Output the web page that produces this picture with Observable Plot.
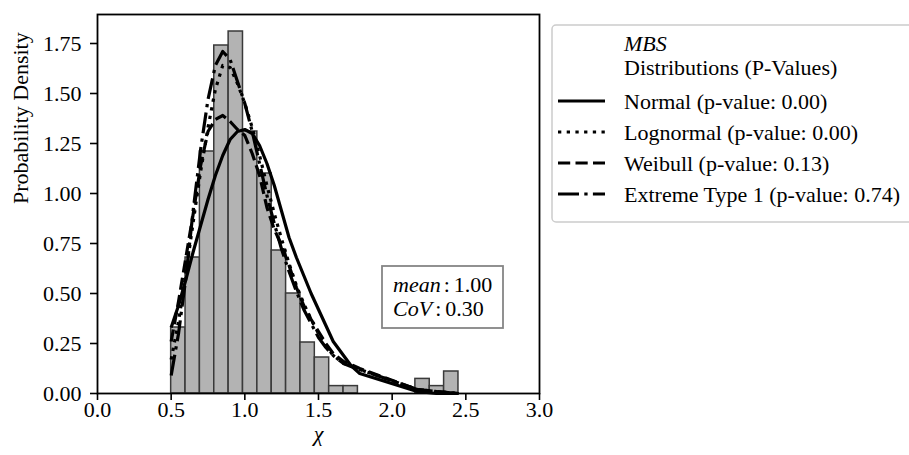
<!DOCTYPE html>
<html><head><meta charset="utf-8">
<script src="https://cdn.jsdelivr.net/npm/d3@7"></script>
<script src="https://cdn.jsdelivr.net/npm/@observablehq/plot@0.6"></script>
<style>
body{margin:0;background:#fff;overflow:hidden;}
#wrap{position:relative;width:909px;height:455px;font-family:"Liberation Serif","Times New Roman",serif;}
#wrap svg{display:block;}
#overlay{position:absolute;left:0;top:0;pointer-events:none;}
</style></head><body><div id="wrap"></div>
<script>
// Histogram (probability density per bin)
const binEdges = [0.5, 0.5975, 0.695, 0.7925, 0.89, 0.9875, 1.085, 1.1825, 1.28, 1.3775, 1.475, 1.5725, 1.67, 1.7675, 1.865, 1.9625, 2.06, 2.1575, 2.255, 2.3525, 2.45];
const density = [0.33, 0.68, 1.21, 1.74, 1.81, 1.31, 1.10, 0.715, 0.50, 0.255, 0.18, 0.037, 0.037, 0, 0, 0, 0, 0.073, 0.037, 0.11];

// Fitted curves, read at these x positions
const xGrid = [0.50, 0.55, 0.60, 0.65, 0.70, 0.75, 0.80, 0.85, 0.90, 0.95, 1.00, 1.05, 1.10, 1.15, 1.20, 1.25, 1.30, 1.35, 1.40, 1.45, 1.50, 1.55, 1.60, 1.67, 1.72, 1.78, 2.17, 2.30, 2.45];
const normalPdf    = [0.33, 0.44, 0.57, 0.71, 0.84, 0.97, 1.09, 1.19, 1.27, 1.31, 1.32, 1.30, 1.24, 1.15, 1.04, 0.91, 0.78, 0.68, 0.59, 0.50, 0.42, 0.34, 0.26, 0.19, 0.14, 0.10, 0.01, 0.00, 0.00];
const lognormalPdf = [0.17, 0.36, 0.60, 0.86, 1.11, 1.33, 1.52, 1.64, 1.63, 1.55, 1.45, 1.33, 1.19, 1.04, 0.90, 0.77, 0.65, 0.54, 0.45, 0.37, 0.30, 0.24, 0.19, 0.15, 0.14, 0.12, 0.02, 0.01, 0.00];
const weibullPdf   = [0.26, 0.46, 0.68, 0.90, 1.14, 1.31, 1.37, 1.39, 1.36, 1.32, 1.29, 1.20, 1.09, 0.93, 0.82, 0.74, 0.64, 0.53, 0.44, 0.37, 0.31, 0.25, 0.20, 0.16, 0.145, 0.125, 0.02, 0.01, 0.00];
const gumbelPdf    = [0.09, 0.30, 0.58, 0.92, 1.22, 1.47, 1.64, 1.71, 1.67, 1.56, 1.45, 1.31, 1.15, 0.99, 0.85, 0.72, 0.61, 0.51, 0.42, 0.35, 0.28, 0.23, 0.19, 0.15, 0.135, 0.12, 0.02, 0.01, 0.00];

const seriesNames = ["Normal (p-value: 0.00)", "Lognormal (p-value: 0.00)", "Weibull (p-value: 0.13)", "Extreme Type 1 (p-value: 0.74)"];
const legendTitle = ["MBS", "Distributions (P-Values)"];
const xTicks = [0, 0.5, 1.0, 1.5, 2.0, 2.5, 3.0];
const yTicks = [0, 0.25, 0.5, 0.75, 1.0, 1.25, 1.5, 1.75];
const xLabel = "χ";
const yLabel = "Probability Density";
const statNames = ["mean", "CoV"];
const statValues = ["1.00", "0.30"];

const curves = [normalPdf, lognormalPdf, weibullPdf, gumbelPdf];
const dashes = [null, "3.3,5.4", "12.2,5.3", "21,5.3,3.3,5.3"];
const LW = 3.2;

const chart = Plot.plot({
  width: 909, height: 455,
  marginLeft: 97, marginRight: 370, marginTop: 14, marginBottom: 62,
  style: {fontFamily: "'Liberation Serif', 'Times New Roman', serif", fontSize: "22px", color: "black", background: "white"},
  x: {domain: [0, 3]},
  y: {domain: [0, 1.895]},
  marks: [
    Plot.rect(density, {x1: binEdges.slice(0, -1), x2: binEdges.slice(1), y1: () => 0, y2: d => d,
      fill: "#b3b3b3", stroke: "#3a3a3a", strokeWidth: 1.5}),
    ...curves.map((c, i) => Plot.line(c, {x: xGrid, y: c, stroke: "black", strokeWidth: LW,
      strokeDasharray: dashes[i] || undefined, strokeLinejoin: "round", strokeLinecap: "butt"})),
    Plot.frame({stroke: "black", strokeWidth: 1.8}),
    Plot.axisX({ticks: xTicks, tickFormat: d3.format(".1f"), tickSize: 7, tickPadding: 1, label: null, strokeWidth: 1.6}),
    Plot.axisY({ticks: yTicks, tickFormat: d3.format(".2f"), tickSize: 7, tickPadding: 9, strokeWidth: 1.6, label: null}),
    Plot.text([yLabel], {frameAnchor: "left", dx: -77, rotate: -90, text: d => d}),
    Plot.text([xLabel], {frameAnchor: "bottom", dy: 47, fontStyle: "italic", text: d => d})
  ]
});
const wrap = document.getElementById("wrap");
wrap.appendChild(chart);

// Legend and stats box overlay
const ov = d3.select(wrap).append("svg").attr("id", "overlay").attr("width", 909).attr("height", 455)
  .style("font-family", "'Liberation Serif', 'Times New Roman', serif").style("font-size", "22px");

const lg = ov.append("g");
lg.append("rect").attr("x", 552).attr("y", 25).attr("width", 372).attr("height", 197).attr("rx", 4)
  .attr("fill", "white").attr("fill-opacity", 0.85).attr("stroke", "#cccccc").attr("stroke-width", 1.5);
lg.append("text").attr("x", 624).attr("y", 51).attr("font-style", "italic").text(legendTitle[0]);
lg.append("text").attr("x", 624).attr("y", 75).text(legendTitle[1]);
seriesNames.forEach((name, i) => {
  const yy = 101 + i * 31;
  lg.append("line").attr("x1", 558).attr("x2", 605).attr("y1", yy).attr("y2", yy)
    .attr("stroke", "black").attr("stroke-width", LW).attr("stroke-dasharray", dashes[i]);
  lg.append("text").attr("x", 624).attr("y", yy + 7.5).text(name);
});

const sb = ov.append("g");
sb.append("rect").attr("x", 382).attr("y", 266).attr("width", 121).attr("height", 62)
  .attr("fill", "white").attr("stroke", "#858585").attr("stroke-width", 1.8);
statNames.forEach((n, i) => {
  const t = sb.append("text").attr("x", 393).attr("y", 292 + i * 23.5);
  t.append("tspan").attr("font-style", "italic").text(n);
  t.append("tspan").attr("dx", 3).text(":");
  t.append("tspan").attr("dx", 4).text(statValues[i]);
});
</script></body></html>
